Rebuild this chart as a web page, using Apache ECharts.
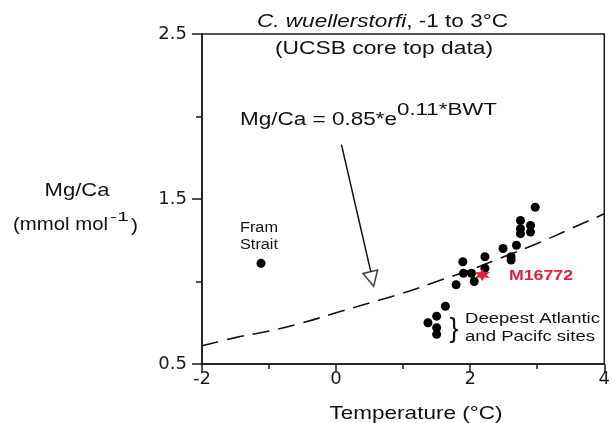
<!DOCTYPE html>
<html><head><meta charset="utf-8">
<script src="https://cdn.jsdelivr.net/npm/echarts@6/dist/echarts.min.js"></script>
<style>html,body{margin:0;padding:0;background:#fff}#c{width:613px;height:423px}</style>
</head><body><div id="c"></div>
<script>
// ---- data ----
const coreTopTemp = [2.97, 2.75, 2.90, 2.75, 2.90, 2.75, 2.69, 2.49, 2.61, 2.61, 2.22, 1.89, 1.90, 2.02, 2.22, 2.06, 1.79, 1.63, 1.50, 1.37, 1.50, 1.50];
const coreTopMgCa = [1.45, 1.37, 1.34, 1.32, 1.30, 1.29, 1.22, 1.20, 1.15, 1.13, 1.15, 1.12, 1.05, 1.05, 1.08, 1.00, 0.98, 0.85, 0.79, 0.75, 0.72, 0.68];
const framTemp = [-1.12];
const framMgCa = [1.11];
const m16772Temp = [2.18];
const m16772MgCa = [1.04];
const fitTemp = [-2, -1.5, -1, -0.5, 0, 0.5, 1, 1.5, 2, 2.5, 3, 3.5, 4];
const fitMgCa = [0.61, 0.66, 0.70, 0.75, 0.81, 0.87, 0.93, 1.00, 1.07, 1.15, 1.23, 1.32, 1.41];
const xTickValues = [-2, 0, 2, 4];
const yTickValues = [0.5, 1.5, 2.5];
const arrowFrom = [0.08, 1.83];
const arrowTo = [0.52, 1.055];
const arrowHead = [0.535, 1.015];

// ---- helpers ----
const SANS = '"Liberation Sans", Arial, Helvetica, sans-serif';
const INK = '#111';
const RED = '#e2203c';
const mctx = document.createElement('canvas').getContext('2d');
function tw(text, size, style, weight) {
  mctx.font = (style || 'normal') + ' ' + (weight || 'normal') + ' ' + size + 'px ' + SANS;
  return mctx.measureText(text).width;
}
function label(text, x, y, size, targetW, o) {
  o = o || {};
  const w = tw(text, size, o.fontStyle, o.fontWeight);
  return {
    type: 'text', x: x, y: y, z: 100,
    scaleX: targetW ? targetW / w : 1,
    style: {
      text: text, fontSize: size, fontFamily: SANS,
      fontStyle: o.fontStyle || 'normal', fontWeight: o.fontWeight || 'normal',
      fill: o.color || INK, align: o.align || 'left', verticalAlign: 'middle'
    }
  };
}
const zip = (a, b) => a.map((v, i) => [v, b[i]]);

// title (italic species name + normal remainder)
const t1a = 'C. wuellerstorfi', t1b = ', -1 to 3°C';
const t1w = tw(t1a, 18, 'italic') + tw(t1b, 18);
const titleEl = {
  type: 'text', x: 382.5, y: 22, z: 100, scaleX: 251 / t1w,
  style: {
    text: '{i|' + t1a + '}{n|' + t1b + '}',
    rich: {
      i: { fontSize: 18, fontFamily: SANS, fontStyle: 'italic', fill: INK },
      n: { fontSize: 18, fontFamily: SANS, fill: INK }
    },
    fontSize: 18, fontFamily: SANS, fill: INK, align: 'center', verticalAlign: 'middle'
  }
};

const axisStyle = { color: '#1a1a1a', width: 1.5 };

const chart = echarts.init(document.getElementById('c'), null, { renderer: 'canvas' });
chart.setOption({
  animation: false,
  backgroundColor: '#fff',
  grid: { left: 202, right: 5, top: 34, bottom: 59, show: true, borderColor: '#1a1a1a', borderWidth: 1.5, backgroundColor: 'transparent' },
  xAxis: {
    type: 'value',
    min: xTickValues[0], max: xTickValues[xTickValues.length - 1],
    interval: xTickValues[1] - xTickValues[0],
    axisLine: { show: true, onZero: false, lineStyle: axisStyle },
    axisTick: { show: true, length: 8, lineStyle: axisStyle },
    minorTick: { show: true, splitNumber: 2, length: 5, lineStyle: axisStyle },
    splitLine: { show: false },
    axisLabel: { fontFamily: '"DejaVu Sans", sans-serif', fontSize: 18, color: '#1a1a1a', margin: 6 }
  },
  yAxis: {
    type: 'value',
    min: yTickValues[0], max: yTickValues[yTickValues.length - 1],
    interval: yTickValues[1] - yTickValues[0],
    axisLine: { show: true, onZero: false, lineStyle: axisStyle },
    axisTick: { show: true, length: 10, lineStyle: axisStyle },
    minorTick: { show: true, splitNumber: 2, length: 6, lineStyle: axisStyle },
    splitLine: { show: false },
    axisLabel: { fontFamily: '"DejaVu Sans", sans-serif', fontSize: 18, color: '#1a1a1a', margin: 15 }
  },
  series: [
    {
      name: 'fit', type: 'line', data: zip(fitTemp, fitMgCa), smooth: true, showSymbol: false,
      lineStyle: { color: '#111', width: 1.6, type: [17, 9] }, z: 2, silent: true
    },
    {
      name: 'arrow', type: 'line', data: [arrowFrom, arrowTo], showSymbol: false,
      lineStyle: { color: '#111', width: 1.5 }, z: 3, silent: true
    },
    {
      name: 'arrowHead', type: 'scatter', data: [arrowHead], symbol: 'triangle', symbolSize: 15, symbolRotate: 193,
      itemStyle: { color: '#fff', borderColor: '#111', borderWidth: 1.5 }, z: 4, silent: true
    },
    {
      name: 'core top', type: 'scatter', data: zip(coreTopTemp, coreTopMgCa), symbolSize: 9,
      itemStyle: { color: '#000', opacity: 1 }, z: 5
    },
    {
      name: 'Fram Strait', type: 'scatter', data: zip(framTemp, framMgCa), symbolSize: 9,
      itemStyle: { color: '#000', opacity: 1 }, z: 5
    },
    {
      name: 'M16772', type: 'scatter', data: zip(m16772Temp, m16772MgCa),
      symbol: 'path://M50 0L62.5 28.4L93.3 25L75 50L93.3 75L62.5 71.6L50 100L37.5 71.6L6.7 75L25 50L6.7 25L37.5 28.4Z',
      symbolSize: [15, 12], symbolKeepAspect: false,
      itemStyle: { color: RED, opacity: 1 }, z: 6
    }
  ],
  graphic: [
    titleEl,
    label('(UCSB core top data)', 384, 49, 18, 218, { align: 'center' }),
    label('Mg/Ca = 0.85*e', 240, 120, 18, 157),
    label('0.11*BWT', 397, 110, 17, 100),
    label('Fram', 240, 228, 14, 38),
    label('Strait', 240, 245, 14, 38),
    label('M16772', 509, 276, 15, 64, { fontWeight: 'bold', color: RED }),
    label('Deepest Atlantic', 465, 318.5, 15, 135),
    label('and Pacifc sites', 465, 336.5, 15, 130),
    label('}', 454, 330, 27, 0, { align: 'center' }),
    label('Mg/Ca', 77, 191, 19, 65, { align: 'center' }),
    label('(mmol mol', 13, 225, 19, 95),
    label('-1', 110, 217, 13, 19),
    label(')', 131, 226, 19, 7),
    label('Temperature (°C)', 416, 414, 19, 173, { align: 'center' })
  ]
});
</script>
</body></html>
